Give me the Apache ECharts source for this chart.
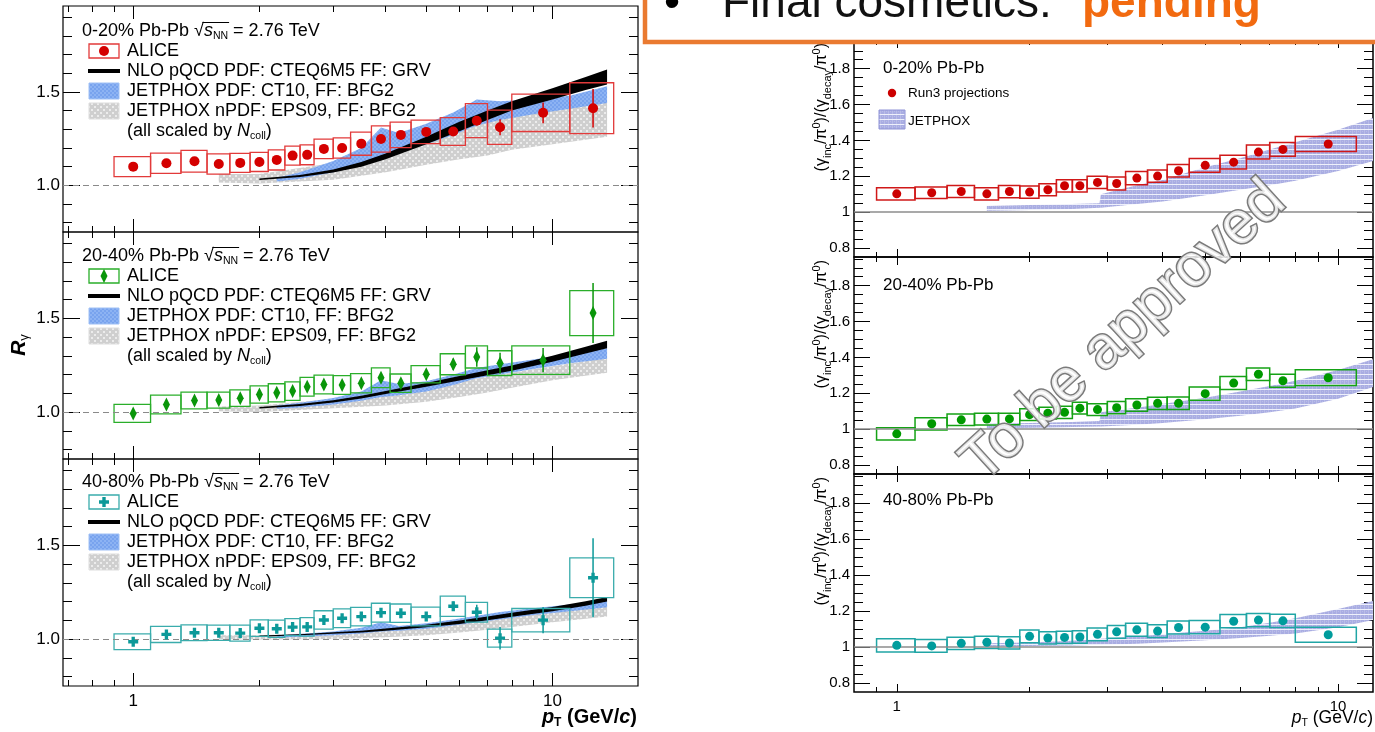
<!DOCTYPE html>
<html><head><meta charset="utf-8">
<script src="https://cdn.jsdelivr.net/npm/echarts@6/dist/echarts.min.js"></script>
<style>html,body{margin:0;padding:0;background:#fff}#c{width:1375px;height:732px}</style>
</head><body><div id="c"></div>
<script>
// ================= DATA =================
const binLo = [0.9,1.1,1.3,1.5,1.7,1.9,2.1,2.3,2.5,2.7,3.0,3.3,3.7,4.1,4.6,5.4,6.2,7.0,8.0,11.0];
const binHi = [1.1,1.3,1.5,1.7,1.9,2.1,2.3,2.5,2.7,3.0,3.3,3.7,4.1,4.6,5.4,6.2,7.0,8.0,11.0,14.0];
const ptCenter = [1.0,1.2,1.4,1.6,1.8,2.0,2.2,2.4,2.6,2.85,3.15,3.5,3.9,4.35,5.0,5.8,6.6,7.5,9.5,12.5];

// ALICE R_gamma (left)
const rg020     = [1.100,1.118,1.129,1.114,1.120,1.125,1.136,1.159,1.163,1.195,1.200,1.223,1.248,1.270,1.286,1.288,1.346,1.311,1.388,1.413];
const rg020Sys  = [0.054,0.054,0.058,0.054,0.051,0.051,0.054,0.051,0.053,0.052,0.054,0.062,0.070,0.068,0.063,0.074,0.091,0.092,0.100,0.136];
const rg020Stat = [0.006,0.006,0.006,0.006,0.006,0.007,0.007,0.008,0.009,0.010,0.011,0.013,0.015,0.017,0.019,0.022,0.025,0.043,0.056,0.103];
const rg2040     = [0.993,1.041,1.062,1.064,1.074,1.094,1.103,1.112,1.135,1.147,1.144,1.154,1.183,1.154,1.202,1.255,1.294,1.261,1.277,1.528];
const rg2040Sys  = [0.048,0.050,0.045,0.043,0.044,0.046,0.048,0.049,0.050,0.050,0.050,0.051,0.053,0.049,0.046,0.056,0.059,0.066,0.076,0.120];
const rg2040Stat = [0.006,0.006,0.006,0.007,0.007,0.008,0.009,0.010,0.011,0.012,0.013,0.015,0.017,0.019,0.022,0.030,0.052,0.056,0.065,0.160];
const rg4080     = [0.986,1.025,1.034,1.034,1.032,1.058,1.055,1.064,1.065,1.102,1.111,1.120,1.141,1.138,1.120,1.175,1.143,1.005,1.101,1.327];
const rg4080Sys  = [0.042,0.043,0.042,0.041,0.043,0.044,0.046,0.045,0.049,0.049,0.050,0.049,0.050,0.049,0.050,0.054,0.053,0.048,0.062,0.106];
const rg4080Stat = [0.006,0.006,0.006,0.007,0.007,0.008,0.009,0.010,0.011,0.012,0.013,0.015,0.017,0.019,0.022,0.025,0.040,0.060,0.070,0.210];

// NLO pQCD (black band)
const nloPt     = [2.0,2.5,3.0,3.5,4.0,5.0,6.0,7.0,8.0,10,12,13.5];
const nlo020Lo  = [1.028,1.045,1.068,1.100,1.140,1.220,1.290,1.350,1.400,1.460,1.510,1.540];
const nlo020Hi  = [1.036,1.055,1.085,1.125,1.170,1.260,1.340,1.400,1.450,1.520,1.580,1.620];
const nlo2040Lo = [1.019,1.033,1.051,1.073,1.097,1.135,1.168,1.197,1.221,1.269,1.312,1.340];
const nlo2040Hi = [1.027,1.043,1.063,1.087,1.113,1.155,1.192,1.223,1.249,1.301,1.348,1.380];
const nlo4080Lo = [1.013,1.020,1.028,1.035,1.044,1.063,1.081,1.100,1.119,1.149,1.178,1.200];
const nlo4080Hi = [1.019,1.026,1.036,1.045,1.056,1.077,1.099,1.120,1.141,1.171,1.202,1.224];

// JETPHOX PDF CT10 (blue band)
const jpPt      = [2.2,2.5,3.0,3.5,3.9,4.3,5.0,5.8,6.6,7.5,9.0,11,13.5];
const jp020Lo   = [1.020,1.035,1.070,1.110,1.150,1.180,1.220,1.270,1.320,1.350,1.380,1.410,1.440];
const jp020Hi   = [1.040,1.070,1.130,1.200,1.310,1.280,1.330,1.390,1.460,1.450,1.460,1.480,1.530];
const jp2040Lo  = [1.018,1.025,1.040,1.060,1.080,1.090,1.110,1.145,1.180,1.200,1.230,1.260,1.285];
const jp2040Hi  = [1.035,1.050,1.075,1.110,1.170,1.150,1.165,1.200,1.235,1.255,1.280,1.310,1.340];
const jp4080Lo  = [1.008,1.012,1.020,1.030,1.040,1.045,1.055,1.072,1.090,1.105,1.128,1.148,1.170];
const jp4080Hi  = [1.020,1.027,1.040,1.060,1.090,1.070,1.085,1.105,1.125,1.145,1.165,1.185,1.205];

// JETPHOX nPDF EPS09 (grey band)
const npPt      = [1.6,2.0,3.0,4.0,5.0,6.0,7.0,8.0,10,13.5];
const np020Lo   = [1.015,1.010,1.030,1.070,1.110,1.140,1.160,1.190,1.220,1.260];
const np020Hi   = [1.060,1.060,1.120,1.190,1.260,1.310,1.340,1.370,1.410,1.450];
const np2040Lo  = [1.005,1.000,1.020,1.035,1.055,1.080,1.105,1.130,1.170,1.210];
const np2040Hi  = [1.030,1.035,1.070,1.100,1.130,1.160,1.190,1.210,1.245,1.290];
const np4080Lo  = [1.000,0.998,1.000,1.010,1.020,1.035,1.050,1.065,1.090,1.120];
const np4080Hi  = [1.020,1.020,1.035,1.050,1.065,1.085,1.100,1.120,1.145,1.180];

// Run3 projections (right)
const run3_020     = [1.102,1.108,1.115,1.102,1.115,1.112,1.125,1.147,1.147,1.166,1.160,1.190,1.201,1.231,1.261,1.279,1.335,1.350,1.380];
const run3_020Sys  = [0.034,0.032,0.033,0.034,0.034,0.034,0.034,0.034,0.034,0.034,0.036,0.037,0.034,0.035,0.038,0.039,0.039,0.038,0.042];
const run3_2040    = [0.974,1.030,1.052,1.056,1.057,1.081,1.089,1.094,1.117,1.109,1.120,1.135,1.144,1.144,1.198,1.257,1.306,1.270,1.287];
const run3_2040Sys = [0.034,0.034,0.032,0.033,0.032,0.033,0.033,0.034,0.033,0.033,0.034,0.035,0.034,0.035,0.037,0.036,0.035,0.036,0.044];
const run3_4080    = [1.009,1.006,1.020,1.026,1.022,1.059,1.050,1.053,1.055,1.070,1.084,1.095,1.088,1.108,1.110,1.143,1.149,1.145,1.068];
const run3_4080Sys = [0.037,0.035,0.034,0.034,0.034,0.035,0.034,0.034,0.035,0.035,0.035,0.036,0.035,0.036,0.037,0.037,0.037,0.037,0.042];

// JETPHOX (right)
const rjPt      = [1.6,2.0,2.5,2.88,2.9,3.5,4.0,5.0,6.0,7.0,8.0,10,12];
const rj020Lo   = [1.008,1.012,1.018,1.025,1.025,1.045,1.060,1.095,1.125,1.150,1.175,1.230,1.285];
const rj020Hi   = [1.035,1.040,1.045,1.050,1.100,1.150,1.180,1.250,1.300,1.350,1.390,1.460,1.525];
const rj2040Lo  = [1.005,1.008,1.012,1.015,1.015,1.025,1.035,1.055,1.075,1.095,1.115,1.170,1.235];
const rj2040Hi  = [1.030,1.035,1.040,1.045,1.095,1.120,1.140,1.175,1.210,1.240,1.270,1.330,1.390];
const rj4080Lo  = [1.003,1.005,1.008,1.012,1.012,1.018,1.025,1.037,1.050,1.062,1.075,1.110,1.150];
const rj4080Hi  = [1.020,1.025,1.035,1.045,1.045,1.058,1.070,1.090,1.110,1.135,1.160,1.210,1.255];

// tick labels
const leftXMajor = [1,10], leftXMinor = [0.7,0.8,0.9,2,3,4,5,6,7,8,9];
const leftYMajor = [1.0,1.5], leftYMinor = [0.8,0.9,1.1,1.2,1.3,1.4,1.6,1.7,1.8,1.9];
const rightXMajor = [1,10], rightXMinor = [0.9,2,3,4,5,6,7,8,9];
const rightYMajor = [0.8,1,1.2,1.4,1.6,1.8];
const rightYMinor = [0.85,0.9,0.95,1.05,1.1,1.15,1.25,1.3,1.35,1.45,1.5,1.55,1.65,1.7,1.75,1.85,1.9,1.95];
const centLabels = ['0-20%','20-40%','40-80%'];

// ================= STYLE / LAYOUT =================
const FONT = '"Liberation Sans", Arial, Helvetica, sans-serif';
function makePattern(w,h,draw){const c=document.createElement('canvas');c.width=w;c.height=h;draw(c.getContext('2d'));return {image:c,repeat:'repeat'};}
const greyPat = makePattern(6,6,g=>{g.fillStyle='#cfcfcf';g.fillRect(0,0,6,6);g.fillStyle='#ececec';g.fillRect(1,1,2,2);g.fillRect(4,4,2,2);});
const bluePat = makePattern(4,4,g=>{g.fillStyle='#78a3ee';g.fillRect(0,0,4,4);g.fillStyle='#8db3f3';g.fillRect(0,0,2,2);g.fillRect(2,2,2,2);});
const lavPat = makePattern(4,5,g=>{g.fillStyle='#a9ade2';g.fillRect(0,0,4,5);g.fillStyle='#b9bce8';g.fillRect(0,0,1,4);g.fillRect(2,1,1,1);g.fillStyle='#eef0fb';g.fillRect(0,4,4,1);});
const measureCtx = document.createElement('canvas').getContext('2d');
function textW(str, font){ measureCtx.font = font; return measureCtx.measureText(str).width; }

const grids=[], xAxes=[], yAxes=[], series=[], graphics=[];
const tickLS = {color:'#000', width:1};

function addPanel(box, o){
  const gi = grids.length;
  grids.push({left:box.left, top:box.top, width:box.width, height:box.height, show:true, borderColor:'#000', borderWidth:o.border, backgroundColor:'transparent'});
  const xi = xAxes.length, yi = yAxes.length;
  const xb = {type:'log', logBase:10, gridIndex:gi, min:o.xMin, max:o.xMax, axisLine:{show:false,onZero:false}, splitLine:{show:false}, splitArea:{show:false}, minorTick:{show:false}};
  for (const pos of ['bottom','top']) {
    xAxes.push(Object.assign({}, xb, {position:pos,
      axisTick:{show:true, inside:true, length:o.xMajLen, customValues:o.xMajor, lineStyle:tickLS},
      axisLabel:{show: pos==='bottom' && o.xLabels, customValues:o.xMajor, margin:o.xLabMargin, fontSize:o.labSize, fontFamily:FONT, color:'#000', formatter:v=>String(Math.round(v))}}));
    xAxes.push(Object.assign({}, xb, {position:pos,
      axisTick:{show:true, inside:true, length:o.xMinLen, customValues:o.xMinor, lineStyle:tickLS},
      axisLabel:{show:false}}));
  }
  const yb = {type:'value', gridIndex:gi, min:o.yMin, max:o.yMax, axisLine:{show:false,onZero:false}, splitLine:{show:false}};
  for (const pos of ['left','right']) {
    yAxes.push(Object.assign({}, yb, {position:pos,
      axisTick:{show:true, inside:true, length:o.yMajLen, customValues:o.yMajor, lineStyle:tickLS},
      axisLabel:{show: pos==='left', customValues:o.yMajor, margin:o.yLabMargin, fontSize:o.labSize, fontFamily:FONT, color:'#000', formatter:o.yFmt}}));
    yAxes.push(Object.assign({}, yb, {position:pos,
      axisTick:{show:true, inside:true, length:o.yMinLen, customValues:o.yMinor, lineStyle:tickLS},
      axisLabel:{show:false}}));
  }
  return {xi, yi};
}

function bandSeries(ax, pts, lo, hi, fill, z){
  return {type:'custom', xAxisIndex:ax.xi, yAxisIndex:ax.yi, z, silent:true, clip:true, animation:false,
    encode:{x:0, y:1}, data: pts.map((p,i)=>[p, lo[i], hi[i]]),
    renderItem(params, api){
      if (params.dataIndex !== 0) return null;
      const poly=[];
      for (let i=0;i<pts.length;i++) poly.push(api.coord([pts[i], hi[i]]));
      for (let i=pts.length-1;i>=0;i--) poly.push(api.coord([pts[i], lo[i]]));
      return {type:'polygon', shape:{points:poly}, style:{fill, stroke:null}};
    }};
}
function boxSeries(ax, vals, sys, stat, boxCol, barCol, lw){
  return {type:'custom', xAxisIndex:ax.xi, yAxisIndex:ax.yi, z:4, silent:true, clip:true, animation:false,
    encode:{x:0, y:1},
    data: vals.map((v,i)=>[ptCenter[i], v, sys[i], stat ? stat[i] : 0, binLo[i], binHi[i]]),
    renderItem(params, api){
      const x=api.value(0), y=api.value(1), s=api.value(2), st=api.value(3), xl=api.value(4), xh=api.value(5);
      const a=api.coord([xl, y+s]), b=api.coord([xh, y-s]);
      const ch=[{type:'rect', shape:{x:a[0], y:a[1], width:b[0]-a[0], height:b[1]-a[1]}, style:{fill:null, stroke:boxCol, lineWidth:lw}}];
      if (st>0){ const c=api.coord([x, y+st]), d=api.coord([x, y-st]);
        ch.push({type:'line', shape:{x1:c[0], y1:c[1], x2:d[0], y2:d[1]}, style:{stroke:barCol, lineWidth:1.5}}); }
      return {type:'group', children:ch};
    }};
}
function pointSeries(ax, vals, color, symbol, size, refLine){
  return {type:'scatter', xAxisIndex:ax.xi, yAxisIndex:ax.yi, z:5, silent:true, animation:false,
    symbol, symbolSize:size, itemStyle:{color, opacity:1},
    data: vals.map((v,i)=>[ptCenter[i], v]),
    markLine:{silent:true, symbol:'none', animation:false, label:{show:false}, lineStyle:refLine, data:[{yAxis:1}]}};
}

// ---------- left panels ----------
const leftOpt = {border:1.2, xMin:0.68, xMax:16, yMin:0.75, yMax:1.96, xMajor:leftXMajor, xMinor:leftXMinor, yMajor:leftYMajor, yMinor:leftYMinor,
  xMajLen:13, xMinLen:6, yMajLen:17, yMinLen:9, labSize:17, xLabMargin:7, yLabMargin:3, yFmt:v=>v.toFixed(1)};
const LBOX = [{left:63,top:6,width:575,height:226},{left:63,top:232,width:575,height:227},{left:63,top:459,width:575,height:227}];
const leftData = [
  {v:rg020, s:rg020Sys, st:rg020Stat, nlo:[nlo020Lo,nlo020Hi], jp:[jp020Lo,jp020Hi], np:[np020Lo,np020Hi], col:'#d40000', box:'#e23a3a', sym:'circle', size:10},
  {v:rg2040, s:rg2040Sys, st:rg2040Stat, nlo:[nlo2040Lo,nlo2040Hi], jp:[jp2040Lo,jp2040Hi], np:[np2040Lo,np2040Hi], col:'#0a960a', box:'#2aae2a', sym:'diamond', size:[7,14]},
  {v:rg4080, s:rg4080Sys, st:rg4080Stat, nlo:[nlo4080Lo,nlo4080Hi], jp:[jp4080Lo,jp4080Hi], np:[np4080Lo,np4080Hi], col:'#0c9999', box:'#3aacac', sym:'path://M3,0h3v3h3v3h-3v3h-3v-3h-3v-3h3z', size:10}
];
const refDash = {color:'#8a8a8a', type:[6,4], width:1};
leftData.forEach((d,k)=>{
  const ax = addPanel(LBOX[k], Object.assign({}, leftOpt, {xLabels:k===2}));
  series.push(bandSeries(ax, npPt, d.np[0], d.np[1], greyPat, 1));
  series.push(bandSeries(ax, jpPt, d.jp[0], d.jp[1], bluePat, 2));
  series.push(bandSeries(ax, nloPt, d.nlo[0], d.nlo[1], '#000', 3));
  series.push(boxSeries(ax, d.v, d.s, d.st, d.box, d.col, 1.3));
  series.push(pointSeries(ax, d.v, d.col, d.sym, d.size, refDash));
});

// ---------- right panels ----------
const rightOpt = {border:1.5, xMin:0.8, xMax:12, yMin:0.75, yMax:1.96, xMajor:rightXMajor, xMinor:rightXMinor, yMajor:rightYMajor, yMinor:rightYMinor,
  xMajLen:8, xMinLen:5, yMajLen:16, yMinLen:9, labSize:15, xLabMargin:7, yLabMargin:4, yFmt:v=>(Math.abs(v-1)<1e-6?'1':v.toFixed(1))};
const RBOX = [{left:854,top:40,width:519,height:217},{left:854,top:257,width:519,height:217},{left:854,top:474,width:519,height:218}];
const rightData = [
  {v:run3_020, s:run3_020Sys, band:[rj020Lo,rj020Hi], col:'#cc0000', box:'#d01818'},
  {v:run3_2040, s:run3_2040Sys, band:[rj2040Lo,rj2040Hi], col:'#009900', box:'#15a215'},
  {v:run3_4080, s:run3_4080Sys, band:[rj4080Lo,rj4080Hi], col:'#009c9c', box:'#20a5a5'}
];
const refSolid = {color:'#8c8c8c', type:'solid', width:1.5};
rightData.forEach((d,k)=>{
  const ax = addPanel(RBOX[k], Object.assign({}, rightOpt, {xLabels:k===2}));
  series.push(bandSeries(ax, rjPt, d.band[0], d.band[1], lavPat, 1));
  series.push(boxSeries(ax, d.v, d.s, null, d.box, d.col, 1.5));
  series.push(pointSeries(ax, d.v, d.col, 'circle', 9, refSolid));
});

// ================= TEXT / LEGENDS =================
function R(size, extra){ return Object.assign({fontSize:size, fontFamily:FONT, fill:'#000'}, extra||{}); }
const rich18 = {n:R(18,{lineHeight:22}), i:R(18,{fontStyle:'italic',lineHeight:22}), s:R(10.5,{verticalAlign:'bottom',lineHeight:11})};
function T(x,y,text,style,extra){ graphics.push(Object.assign({type:'text', x, y, z:30, silent:true, style:Object.assign({text, fill:'#000', fontFamily:FONT, align:'left', verticalAlign:'middle'}, style)}, extra||{})); }

const leftHeaderY = [31, 256, 482];
leftData.forEach((d,k)=>{
  const hy = leftHeaderY[k];
  const pre = `${centLabels[k]} Pb-Pb `;
  T(82, hy, `{n|${pre}}{n|√}{i|s}{s|NN}{n| = 2.76 TeV}`, {rich:rich18});
  // overline of the square root
  const w0 = textW(pre, '18px '+FONT), wr = textW('√', '18px '+FONT), ws = textW('s', 'italic 18px '+FONT), wn = textW('NN', '10.5px '+FONT);
  graphics.push({type:'line', z:30, silent:true, shape:{x1:82+w0+wr-1.5, y1:hy-8.5, x2:82+w0+wr+ws+wn+1, y2:hy-8.5}, style:{stroke:'#000', lineWidth:1}});
  const r = [hy+20, hy+40, hy+60, hy+80, hy+100];
  graphics.push({type:'rect', z:30, silent:true, shape:{x:89, y:r[0]-7, width:30, height:14}, style:{fill:null, stroke:d.box, lineWidth:1.3}});
  if (k===0) graphics.push({type:'circle', z:31, silent:true, shape:{cx:104, cy:r[0], r:5}, style:{fill:d.col}});
  if (k===1) graphics.push({type:'polygon', z:31, silent:true, shape:{points:[[104,r[0]-7],[107.5,r[0]],[104,r[0]+7],[100.5,r[0]]]}, style:{fill:d.col}});
  if (k===2) graphics.push({type:'polygon', z:31, silent:true, shape:{points:[[102.3,r[0]-5],[105.7,r[0]-5],[105.7,r[0]-1.7],[109,r[0]-1.7],[109,r[0]+1.7],[105.7,r[0]+1.7],[105.7,r[0]+5],[102.3,r[0]+5],[102.3,r[0]+1.7],[99,r[0]+1.7],[99,r[0]-1.7],[102.3,r[0]-1.7]]}, style:{fill:d.col}});
  T(127, r[0], 'ALICE', {fontSize:18});
  graphics.push({type:'line', z:30, silent:true, shape:{x1:88, y1:r[1], x2:120, y2:r[1]}, style:{stroke:'#000', lineWidth:4}});
  T(127, r[1], 'NLO pQCD PDF: CTEQ6M5 FF: GRV', {fontSize:18});
  graphics.push({type:'rect', z:30, silent:true, shape:{x:89, y:r[2]-8, width:30, height:16}, style:{fill:bluePat, stroke:'#9fc0f5', lineWidth:1}});
  T(127, r[2], 'JETPHOX PDF: CT10, FF: BFG2', {fontSize:18});
  graphics.push({type:'rect', z:30, silent:true, shape:{x:89, y:r[3]-8, width:30, height:16}, style:{fill:greyPat, stroke:'#dddddd', lineWidth:1}});
  T(127, r[3], 'JETPHOX nPDF: EPS09, FF: BFG2', {fontSize:18});
  T(127, r[4], '{n|(all scaled by }{i|N}{s|coll}{n|)}', {rich:rich18});
});

// right headers + legend
const rightHeaderY = [68, 285, 500];
rightHeaderY.forEach((y,k)=> T(883, y, `${centLabels[k]} Pb-Pb`, {fontSize:17}));
graphics.push({type:'circle', z:30, silent:true, shape:{cx:892, cy:93, r:4.2}, style:{fill:'#cc0000'}});
T(908, 93, 'Run3 projections', {fontSize:13.5});
graphics.push({type:'rect', z:30, silent:true, shape:{x:879, y:110, width:26, height:19}, style:{fill:lavPat, stroke:'#8f93d6', lineWidth:1}});
T(908, 121, 'JETPHOX', {fontSize:13.5});

// axis titles
T(19, 345, '{r|R}{g|γ}', {align:'center', rich:{r:R(21,{fontWeight:'bold',fontStyle:'italic',lineHeight:24}), g:R(13,{verticalAlign:'bottom',lineHeight:12})}}, {rotation:Math.PI/2});
T(637, 717, '{p|p}{t|T}{n| (GeV/}{c|c}{n|)}', {align:'right', rich:{p:R(20,{fontWeight:'bold',fontStyle:'italic',lineHeight:24}), t:R(12,{fontWeight:'bold',verticalAlign:'bottom',lineHeight:11}), n:R(20,{fontWeight:'bold',lineHeight:24}), c:R(20,{fontWeight:'bold',fontStyle:'italic',lineHeight:24})}});
T(1373, 718, '{p|p}{t|T}{n| (GeV/}{c|c}{n|)}', {align:'right', rich:{p:R(17.5,{fontStyle:'italic',lineHeight:22}), t:R(10.5,{verticalAlign:'bottom',lineHeight:10}), n:R(17.5,{lineHeight:22}), c:R(17.5,{fontStyle:'italic',lineHeight:22})}});
const yTitleRich = {n:R(16,{lineHeight:22}), s:R(11,{verticalAlign:'bottom',lineHeight:11}), u:R(11,{verticalAlign:'top',lineHeight:11})};
RBOX.forEach(b=> T(822, b.top+3, '{n|(γ}{s|inc}{n|/π}{u|0}{n|)/(γ}{s|decay}{n|/π}{u|0}{n|)}', {align:'right', rich:yTitleRich}, {rotation:Math.PI/2}));

// watermark
graphics.push({type:'text', z:60, silent:true, x:1124, y:332, rotation:0.74,
  style:{text:'To be approved', fontSize:60, fontFamily:FONT, fill:'rgba(255,255,255,0.82)', stroke:'#7b7b7b', lineWidth:3, align:'center', verticalAlign:'middle'}});

// banner
graphics.push({type:'rect', z:80, silent:true, shape:{x:645, y:-20, width:800, height:62}, style:{fill:'#fff', stroke:'#ea7a30', lineWidth:4.5}});
graphics.push({type:'text', z:81, silent:true, x:664, y:4, style:{text:'•', fontSize:46, fontFamily:FONT, fill:'#000', align:'left', verticalAlign:'middle'}});
graphics.push({type:'text', z:81, silent:true, x:722, y:4, style:{text:'Final cosmetics:', fontSize:46, fontFamily:FONT, fill:'#111', align:'left', verticalAlign:'middle'}});
graphics.push({type:'text', z:81, silent:true, x:1082, y:4, style:{text:'pending', fontSize:46, fontWeight:'bold', fontFamily:FONT, fill:'#f26a10', align:'left', verticalAlign:'middle'}});

const chart = echarts.init(document.getElementById('c'), null, {renderer:'canvas'});
chart.setOption({animation:false, backgroundColor:'#fff', grid:grids, xAxis:xAxes, yAxis:yAxes, series, graphic:{elements:graphics}});
</script></body></html>
